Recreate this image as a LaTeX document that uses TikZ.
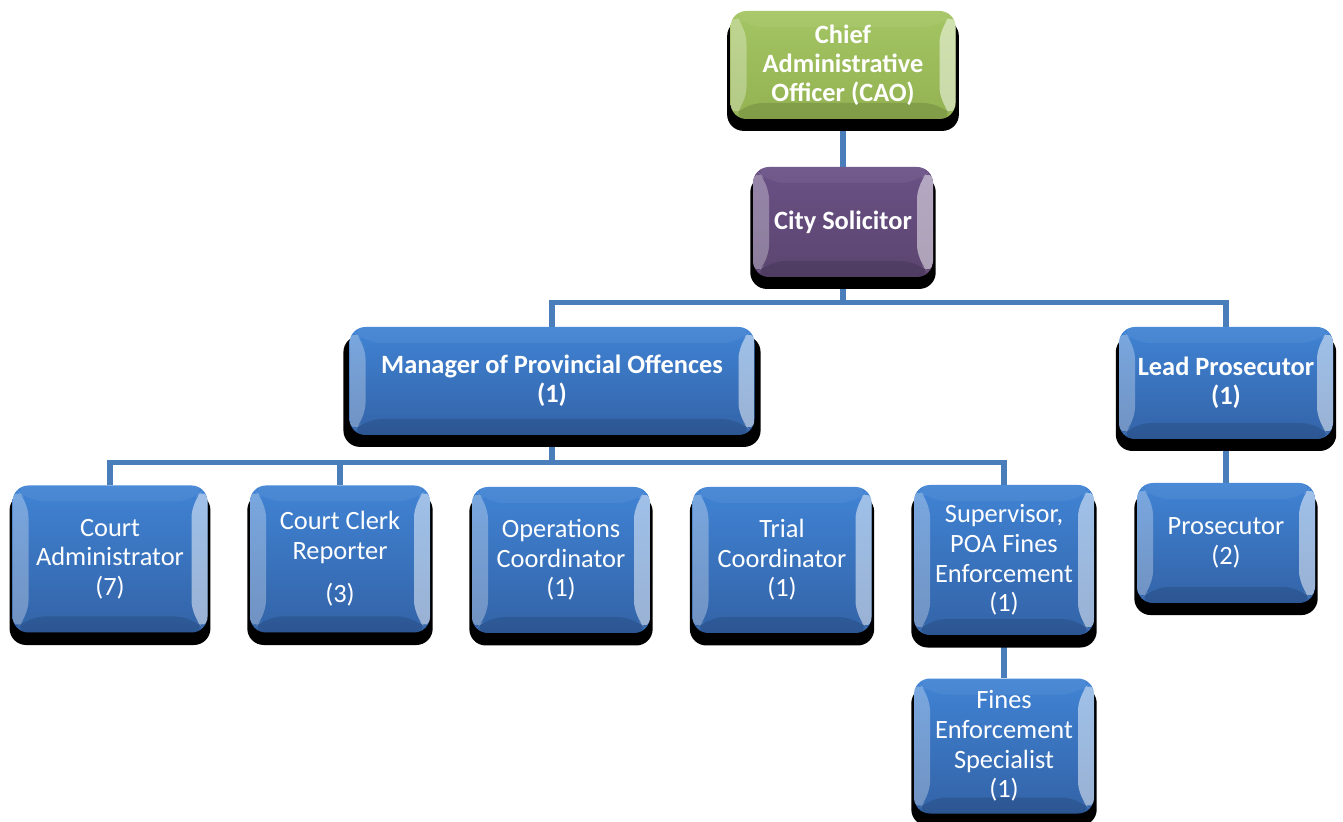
\documentclass[tikz,border=0pt]{standalone}
\usepackage{fontspec}
\setmainfont{Carlito}
\usetikzlibrary{calc,shadows,backgrounds}

\definecolor{linkblue}{HTML}{4A7EBB}
\definecolor{blueTop}{HTML}{4083D4}
\definecolor{blueBot}{HTML}{3363A7}
\definecolor{greenTop}{HTML}{A4C563}
\definecolor{greenBot}{HTML}{93B252}
\definecolor{purpleTop}{HTML}{6A5186}
\definecolor{purpleBot}{HTML}{5B456F}

\newcommand{\bevel}{8pt}

\begin{document}
\begin{tikzpicture}[x=0.5pt,y=-0.5pt,
  box/.style 2 args={rounded corners=8pt, inner sep=2pt, align=center,
    text=white, font=\fontsize{13.2}{14.8}\selectfont,
    top color=#1, bottom color=#2,
    drop shadow={shadow xshift=0pt, shadow yshift=-5pt, shadow scale=1.03,
      fill=black, opacity=1},
    path picture={
      \coordinate (nw) at (path picture bounding box.north west);
      \coordinate (se) at (path picture bounding box.south east);
      \fill[white,opacity=0.06] (nw) -- ($(nw)+(\bevel,-\bevel)$)
        -- ($(se|-nw)+(-\bevel,-\bevel)$) -- (se|-nw) -- cycle;
      \fill[black,opacity=0.12] (nw|-se) -- ($(nw|-se)+(\bevel,\bevel)$)
        -- ($(se)+(-\bevel,\bevel)$) -- (se) -- cycle;
      \fill[white,opacity=0.3] (nw) -- ($(nw)+(\bevel,-\bevel)$)
        -- ($(nw|-se)+(\bevel,\bevel)$) -- (nw|-se) -- cycle;
      \fill[white,opacity=0.5] (se|-nw) -- ($(se|-nw)+(-\bevel,-\bevel)$)
        -- ($(se)+(-\bevel,\bevel)$) -- (se) -- cycle;
    }},
  bluebox/.style={box={blueTop}{blueBot}},
  head/.style={font=\fontsize{13.2}{14.6}\selectfont\bfseries},
  link/.style={draw=linkblue, line width=2.6pt}]

  \useasboundingbox (0,0) rectangle (1343,822);

  \node[box={greenTop}{greenBot}, head, minimum width=112.5pt, minimum height=54pt]
    (cao) at (843,65) {Chief\\Administrative\\Officer (CAO)};
  \node[box={purpleTop}{purpleBot}, head, minimum width=90pt, minimum height=55pt]
    (sol) at (843,222) {City Solicitor};

  \node[bluebox, head, minimum width=202.5pt, minimum height=54pt]
    (mgr) at (552,381) {Manager of Provincial Offences\\(1)};
  \node[bluebox, head, minimum width=107pt, minimum height=56pt]
    (lead) at (1226,383) {Lead Prosecutor\\(1)};

  \node[bluebox, minimum width=97.5pt, minimum height=73.5pt]
    (admin) at (110,559) {Court\\Administrator\\(7)};
  \node[bluebox, minimum width=90pt, minimum height=73.5pt]
    (clerk) at (340,559) {Court Clerk\\Reporter\\[7pt](3)};
  \node[bluebox, minimum width=89pt, minimum height=73pt]
    (ops) at (561,560) {Operations\\Coordinator\\(1)};
  \node[bluebox, minimum width=89.5pt, minimum height=73pt]
    (trial) at (782,560) {Trial\\Coordinator\\(1)};
  \node[bluebox, minimum width=90pt, minimum height=75pt]
    (sup) at (1004,560) {Supervisor,\\POA Fines\\Enforcement\\(1)};
  \node[bluebox, minimum width=90pt, minimum height=67.5pt]
    (fines) at (1004,746) {Fines\\Enforcement\\Specialist\\(1)};
  \node[bluebox, minimum width=89pt, minimum height=60pt]
    (pros) at (1226,543) {Prosecutor\\(2)};

  \begin{scope}[on background layer]
    \draw[link] (cao.south) -- (sol.north);
    \draw[link] (sol.south) -- ++(0,25) -| (mgr.north);
    \draw[link] (sol.south) -- ++(0,25) -| (lead.north);
    \draw[link] (mgr.south) -- ++(0,27) -| (admin.north);
    \draw[link] (mgr.south) -- ++(0,27) -| (clerk.north);
    \draw[link] (mgr.south) -- ++(0,27) -| (sup.north);
    \draw[link] (lead.south) -- (pros.north);
    \draw[link] (sup.south) -- (fines.north);
  \end{scope}
\end{tikzpicture}
\end{document}
